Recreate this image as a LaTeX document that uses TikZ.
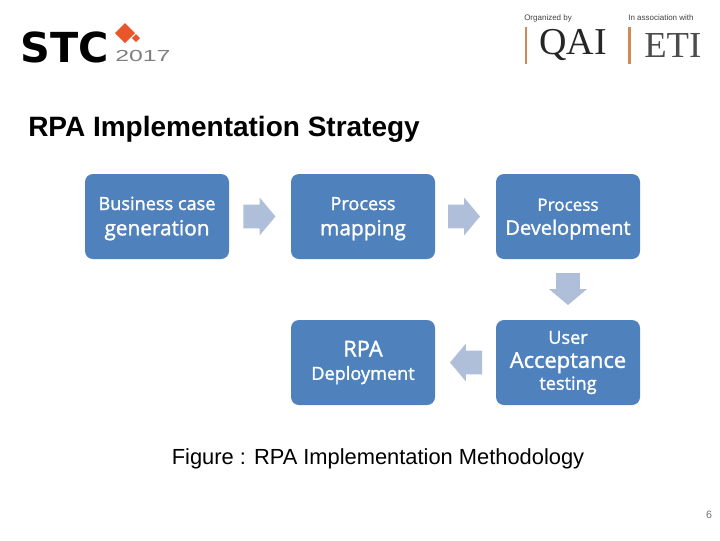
\documentclass[tikz,border=0pt]{standalone}
\usepackage{fontspec}
\setmainfont{Liberation Sans}
\newfontfamily\boxfont{Open Sans}[RawFeature={embolden=1.5}]
\newfontfamily\logofont{DejaVu Sans}
\newfontfamily\seriffont{Liberation Serif}
\usetikzlibrary{shapes.arrows}
\definecolor{boxblue}{HTML}{4F81BD}
\definecolor{arrowblue}{HTML}{AFBFDA}
\definecolor{logoorange}{HTML}{E8562A}
\definecolor{barorange}{HTML}{CF8A55}
\tikzset{
  stepbox/.style={draw=none, fill=boxblue, rounded corners=6pt, minimum width=108pt, minimum height=63.75pt, inner sep=0pt, align=center, text=white, font=\boxfont},
  flowarrow/.style={single arrow, draw=none, fill=arrowblue, inner sep=0pt, text width=0pt, minimum height=24pt, minimum width=28.5pt, single arrow head extend=5.25pt, single arrow tip angle=100, text height=8.6pt, text depth=8.6pt},
  smalltext/.style={font=\fontsize{6}{7}\selectfont, inner sep=0pt, text=black!75},
}
\newcommand{\sizeA}{\fontsize{13.6}{16}\selectfont}
\newcommand{\sizeB}{\fontsize{15.6}{17}\selectfont}
\newcommand{\sizeC}{\fontsize{16.4}{17}\selectfont}
\newcommand{\topgap}{\rule{0pt}{13pt}}
\begin{document}
\begin{tikzpicture}[x=0.75pt,y=-0.75pt]
\useasboundingbox (0,0) rectangle (720,540);
%% logos
\node[inner sep=0pt, anchor=west] (stc) at (20,47) {\logofont\bfseries\fontsize{31}{31}\selectfont STC};
\node[inner sep=0pt, anchor=west, text=black!50] (year) at (115,56) {\scalebox{1.55}[1]{\fontsize{12}{12}\selectfont 2017}};
\fill[logoorange] (125,23) -- (135,33) -- (125,43) -- (115,33) -- cycle;
\fill[logoorange] (136,34) -- (140,38) -- (136,42) -- (132,38) -- cycle;
\node[smalltext, anchor=west] (organized) at (524,18) {Organized by};
\node[smalltext, anchor=west] (association) at (628,18) {In association with};
\fill[barorange] (525,27) rectangle (527,64);
\fill[barorange] (628,27) rectangle (631,64);
\node[inner sep=0pt, anchor=west, text=black!85] (qai) at (539,45) {\seriffont\fontsize{28.5}{30}\selectfont QAI};
\node[inner sep=0pt, anchor=west, text=black!70] (eti) at (644,45) {\seriffont\fontsize{27.5}{30}\selectfont ETI};
%% heading
\node[inner sep=0pt, anchor=west] (title) at (28,129) {\fontsize{21}{24}\selectfont\bfseries RPA Implementation Strategy};
%% boxes
\node[stepbox] (business) at (157,216.5) {\topgap\sizeA Business case\\[7pt]\sizeB generation};
\node[stepbox] (mapping) at (363,216.5) {\topgap\sizeA Process\\[7pt]\sizeB mapping};
\node[stepbox] (development) at (568,216.5) {\topgap\fontsize{12.8}{16}\selectfont Process\\[6pt]\fontsize{15}{17}\selectfont Development};
\node[stepbox] (acceptance) at (568,362.5) {\sizeA User\\[6pt]\sizeC Acceptance\\[1.5pt]\sizeA testing};
\node[stepbox] (deployment) at (363,362.5) {\sizeC RPA\\[5.5pt]\sizeA Deployment};
%% arrows
\node[flowarrow] (arrowa) at (254.5,216.5) {};
\node[flowarrow] (arrowb) at (459,216.5) {};
\node[flowarrow, rotate=-90] (arrowc) at (568,284) {};
\node[flowarrow, rotate=180] (arrowd) at (471,362.5) {};
%% caption
\node[inner sep=0pt] (caption) at (378,458.5) {\fontsize{16.4}{19}\selectfont Figure : RPA Implementation Methodology};
\node[inner sep=0pt, text=black!55] (pagenum) at (709,515) {\fontsize{8}{10}\selectfont 6};
\end{tikzpicture}
\end{document}
